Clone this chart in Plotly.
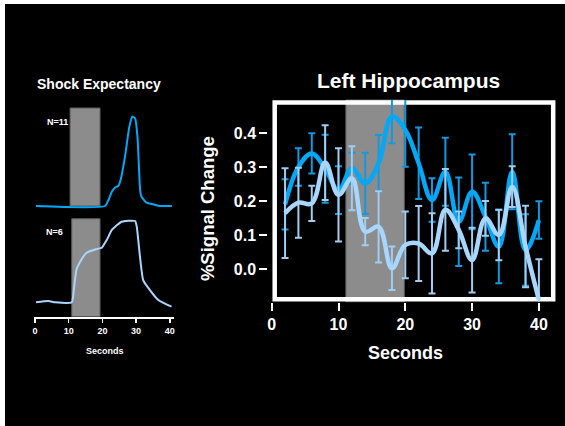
import plotly.graph_objects as go

W, H = 565, 426

# ---------------- data ----------------
# Right panel: Left Hippocampus, %Signal Change vs seconds
seconds = [2, 4, 6, 8, 10, 12, 14, 16, 18, 20, 22, 24, 26, 28, 30, 32, 34, 36, 38, 40]
dark_mean = [0.19, 0.30, 0.34, 0.295, 0.232, 0.296, 0.252, 0.311, 0.448, 0.409,
             0.311, 0.203, 0.286, 0.139, 0.227, 0.154, 0.066, 0.286, 0.056, 0.144]
dark_err = [0.074, 0.055, 0.059, 0.10, 0.07, 0.046, 0.09, 0.083, 0.078, 0.108,
            0.105, 0.064, 0.10, 0.13, 0.11, 0.10, 0.108, 0.11, 0.105, 0.055]
light_mean = [0.164, 0.195, 0.193, 0.313, 0.218, 0.267, 0.110, 0.124, 0.002, 0.071,
              0.075, 0.046, 0.174, 0.115, 0.026, 0.149, 0.10, 0.242, 0.066, -0.091]
light_err = [0.132, 0.103, 0.052, 0.11, 0.137, 0.094, 0.04, 0.105, 0.064, 0.098,
             0.11, 0.118, 0.12, 0.054, 0.095, 0.051, 0.074, 0.06, 0.12, 0.12]
y_ticks = [0.0, 0.1, 0.2, 0.3, 0.4]
x_ticks = [0, 10, 20, 30, 40]
shade_right = (11.1, 19.85)

# Left panel: Shock Expectancy (normalised rating)
top_x = [0.3, 20.8, 21.8, 22.8, 23.7, 24.7, 25.4, 26.7, 28.0, 28.9, 29.7, 30.4,
         31.2, 31.6, 33.1, 35.1, 37.1, 40.6]
top_y = [0, 0, 0.061, 0.146, 0.187, 0.204, 0.265, 0.503, 0.81, 0.911, 0.895, 0.707,
         0.163, 0.095, 0.034, 0.017, 0, 0]
bottom_x = [0.3, 4.0, 6.0, 10.9, 11.6, 12.3, 13.4, 15.3, 18.3, 19.8, 21.3, 22.8,
            25.7, 29.7, 30.2, 32.1, 34.1, 36.6, 40.5]
bottom_y = [0.147, 0.16, 0.147, 0.147, 0.30, 0.48, 0.561, 0.653, 0.691, 0.704, 0.783,
            0.885, 0.969, 0.976, 0.918, 0.374, 0.272, 0.170, 0.102]
shade_top = (10.4, 19.3)
shade_bottom = (10.9, 19.3)

DARK = "#00a8f7"
DARK_ERR = "#1299e0"
LIGHT = "#a9d6ff"
LIGHT_ERR = "#a0cdf0"
GRAY = "#8c8c8c"
FONT = "Liberation Sans, Arial, sans-serif"


def px(x):
    return x / W


def py(y):
    return 1 - y / H


fig = go.Figure()

# right panel traces
fig.add_trace(go.Scatter(
    x=seconds, y=dark_mean, mode="lines", xaxis="x", yaxis="y",
    line=dict(color=DARK, width=4.5, shape="spline", smoothing=1.1),
    error_y=dict(type="data", array=dark_err, color=DARK_ERR, thickness=2, width=3.5),
    showlegend=False, hoverinfo="skip"))
fig.add_trace(go.Scatter(
    x=seconds, y=light_mean, mode="lines", xaxis="x", yaxis="y",
    line=dict(color=LIGHT, width=4.5, shape="spline", smoothing=1.1),
    error_y=dict(type="data", array=light_err, color=LIGHT_ERR, thickness=2, width=3.5),
    showlegend=False, hoverinfo="skip"))

# left panel traces
fig.add_trace(go.Scatter(
    x=top_x, y=top_y, mode="lines", xaxis="x2", yaxis="y2",
    line=dict(color=DARK, width=2, shape="spline", smoothing=0.5),
    showlegend=False, hoverinfo="skip"))
fig.add_trace(go.Scatter(
    x=bottom_x, y=bottom_y, mode="lines", xaxis="x2", yaxis="y3",
    line=dict(color=LIGHT, width=2, shape="spline", smoothing=0.5),
    showlegend=False, hoverinfo="skip"))

# geometry (pixels)
R_L, R_R, R_T, R_B = 271.7, 555.0, 100.0, 301.7
y_per = 340.0  # px per unit
y0_px = 269.0
ry_lo = -(R_B - y0_px) / y_per
ry_hi = (y0_px - R_T) / y_per

L_L, L_R = 34.0, 174.0
top_dom = (100.0, 212.0)
bot_dom = (212.0, 316.7)

shapes = []
# black page area (white strips remain at the left and top edges)
shapes.append(dict(type="rect", xref="paper", yref="paper", x0=px(5), x1=1.02, y0=-0.02,
                   y1=py(4), fillcolor="black", line=dict(width=0), layer="below"))
# right panel shade and frame
shapes.append(dict(type="rect", xref="x", yref="paper", x0=shade_right[0], x1=shade_right[1],
                   y0=py(R_B), y1=py(R_T), fillcolor=GRAY, line=dict(color="#5a5a5a", width=1),
                   layer="below"))
shapes.append(dict(type="rect", xref="paper", yref="paper",
                   x0=px(274.7), x1=px(553.2), y0=py(299.2), y1=py(102.5),
                   line=dict(color="white", width=4.5), fillcolor="rgba(0,0,0,0)", layer="below"))
# left panel shades
shapes.append(dict(type="rect", xref="x2", yref="y2", x0=shade_top[0], x1=shade_top[1],
                   y0=0, y1=1, fillcolor=GRAY, line=dict(color="#5a5a5a", width=1), layer="below"))
shapes.append(dict(type="rect", xref="x2", yref="y3", x0=shade_bottom[0], x1=shade_bottom[1],
                   y0=0, y1=1, fillcolor=GRAY, line=dict(color="#5a5a5a", width=1), layer="below"))


def ann(text, x, y, size, angle=0):
    return dict(text=text, x=px(x), y=py(y), xref="paper", yref="paper",
                xanchor="center", yanchor="middle", showarrow=False, textangle=angle,
                font=dict(family=FONT, size=size, color="white", weight="bold"))


annotations = [
    ann("Left Hippocampus", 409, 80, 21),
    ann("%Signal Change", 207.5, 208.6, 18.5, -90),
    ann("Seconds", 405, 353, 18),
    ann("Shock Expectancy", 99, 84, 14),
    ann("N=11", 57, 121.7, 9),
    ann("N=6", 54.7, 231.7, 9),
    ann("Seconds", 105, 350.7, 9),
]

fig.update_layout(
    width=W, height=H,
    margin=dict(l=0, r=0, t=0, b=0, autoexpand=False),
    paper_bgcolor="white", plot_bgcolor="rgba(0,0,0,0)",
    shapes=shapes, annotations=annotations, hovermode=False,
    xaxis=dict(domain=[px(R_L), px(R_R)], range=[0, (R_R - R_L) / 6.68], anchor="y",
               tickvals=x_ticks, ticks="outside", ticklen=8, tickwidth=2, tickcolor="white",
               showgrid=False, zeroline=False, showline=False,
               tickfont=dict(family=FONT, size=16, color="white", weight="bold")),
    yaxis=dict(domain=[py(R_B), py(R_T)], range=[ry_lo, ry_hi], anchor="free",
               position=px(267.3), tickvals=y_ticks, tickformat=".1f",
               ticks="outside", ticklen=8, tickwidth=2, tickcolor="white",
               showgrid=False, zeroline=False, showline=False,
               tickfont=dict(family=FONT, size=16, color="white", weight="bold")),
    xaxis2=dict(domain=[px(L_L), px(L_R)], range=[(L_L - 35) / 3.37, (L_R - 35) / 3.37],
                anchor="y3", tickvals=x_ticks, ticks="outside", ticklen=4, tickwidth=1.5,
                tickcolor="white", showline=True, linecolor="white", linewidth=2,
                showgrid=False, zeroline=False,
                tickfont=dict(family=FONT, size=9, color="white", weight="bold")),
    yaxis2=dict(domain=[py(top_dom[1]), py(top_dom[0])],
                range=[(206 - top_dom[1]) / 98, (206 - top_dom[0]) / 98],
                anchor="x2", visible=False),
    yaxis3=dict(domain=[py(bot_dom[1]), py(bot_dom[0])],
                range=[(316.7 - bot_dom[1]) / 98, (316.7 - bot_dom[0]) / 98],
                anchor="x2", visible=False),
)

fig.write_html(
    "out.html",
    config={"displayModeBar": False, "staticPlot": True},
    post_script="document.body.style.margin='0';document.body.style.overflow='hidden';",
)
